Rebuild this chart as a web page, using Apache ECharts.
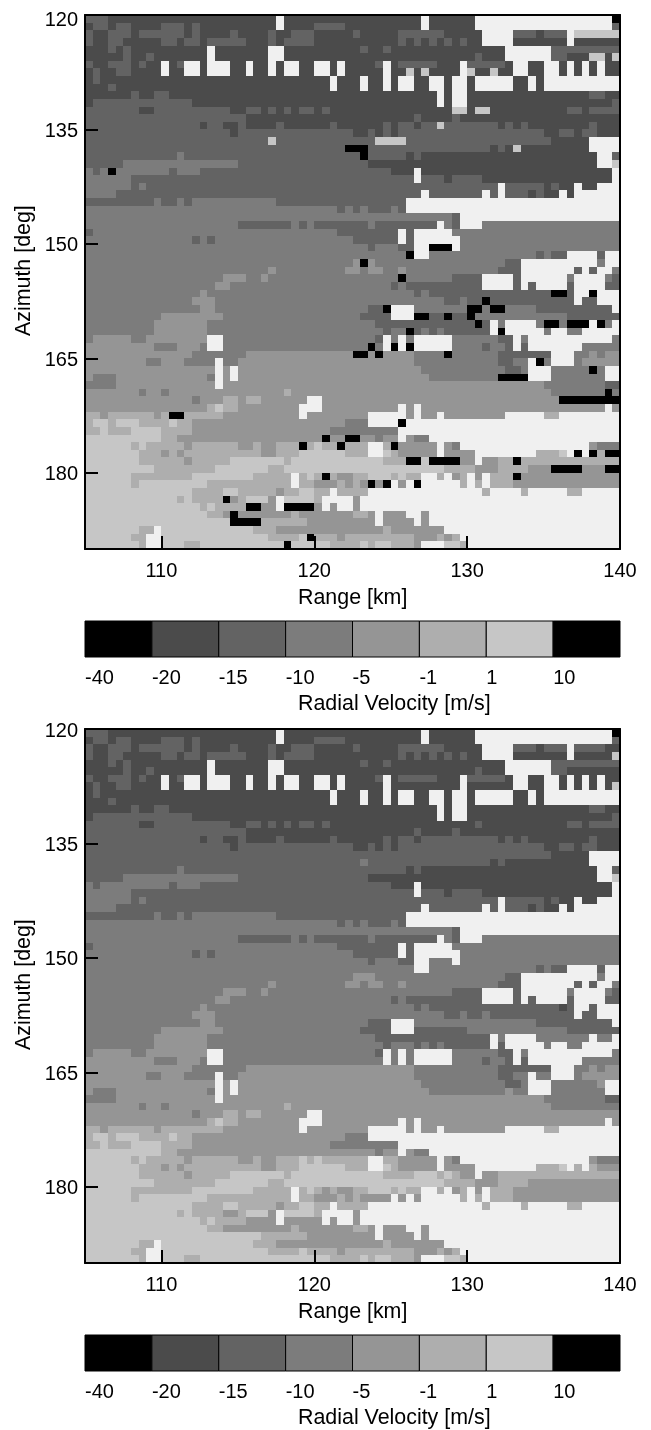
<!DOCTYPE html>
<html>
<head>
<meta charset="utf-8">
<style>html,body{margin:0;padding:0;background:#fff}#c{width:651px;height:1430px}</style>
<script src="https://cdn.jsdelivr.net/npm/echarts@6/dist/echarts.min.js"></script>
</head>
<body>
<div id="c"></div>
<script>
// Colour classes: 0 = out of scale (black), 1..6 = velocity bins, 7 = no data
const binColors = ['#000000','#4b4b4b','#636363','#7c7c7c','#959595','#aeaeae','#c6c6c6','#f0f0f0'];
const colorbarLabels = ['-40','-20','-15','-10','-5','-1','1','10'];
const colorbarBins = [0,1,2,3,4,5,6,0];
const rangeTicks = [110,120,130,140];
const azimuthTicks = [120,135,150,165,180];

// Raw velocity classes, one line per azimuth (120..189 deg, 1 deg steps).
// Each token is class.endColumn; columns are 0.5 km gates from 105 km.
const rawRows = [
"2.3 1.25 7.26 1.44 7.45 1.51 7.69 0.70",
"1.1 2.3 1.4 2.6 1.10 2.13 1.14 2.15 1.25 7.26 1.30 2.34 1.44 7.45 1.51 7.69 2.70",
"2.1 1.3 2.6 1.7 2.13 1.14 2.15 1.19 2.20 1.24 2.25 1.27 2.30 1.35 2.36 1.41 2.47 1.52 7.56 2.59 1.60 2.63 7.64 6.70",
"2.1 1.3 2.5 1.10 2.12 1.13 2.15 1.16 2.21 1.24 2.25 1.26 2.30 1.41 2.42 1.43 2.44 1.45 2.46 1.47 2.48 1.49 2.50 1.52 7.56 1.63 7.64 1.70",
"1.3 2.4 1.5 2.6 1.16 7.17 1.24 7.26 1.36 2.37 1.39 2.40 1.55 7.61 2.70",
"1.5 2.6 1.8 2.9 1.16 7.17 1.24 7.26 1.51 2.52 1.55 7.61 2.63 1.66 6.68 1.69 6.70",
"2.1 1.3 2.6 1.7 2.8 1.10 7.11 1.12 2.13 7.15 1.16 7.19 1.21 7.22 1.24 7.25 1.26 7.28 1.30 7.32 1.33 7.34 1.38 2.39 7.40 1.41 2.46 1.49 7.50 2.55 1.56 7.58 1.60 7.62 1.63 7.64 1.65 7.66 1.67 7.68 1.70",
"1.1 2.2 1.4 2.6 1.10 7.11 1.13 7.15 1.16 7.19 1.21 7.22 1.24 7.25 1.26 7.28 1.30 7.32 1.33 7.34 1.39 7.40 1.42 6.43 1.44 6.45 1.49 7.50 6.51 1.53 6.54 1.56 7.58 1.60 7.62 1.63 7.64 1.65 7.66 1.67 7.68 1.70",
"1.1 2.2 1.32 7.33 1.36 7.37 1.39 7.40 1.41 7.43 1.45 7.47 1.48 7.50 1.51 7.56 1.58 7.59 1.60 7.70",
"1.3 2.4 1.32 7.33 1.36 7.37 1.39 7.40 1.41 7.43 1.45 7.47 1.48 7.50 1.51 7.56 1.58 7.59 1.60 7.70",
"1.6 2.7 1.9 2.11 1.46 7.47 1.48 7.50 1.66 2.68 1.70",
"1.1 2.14 1.46 7.47 1.48 7.50 1.69 2.70",
"2.7 1.9 2.19 1.21 2.23 1.24 2.25 1.26 2.27 1.28 2.30 1.31 2.32 1.48 6.50 1.51 6.53 1.63 2.65 1.66 2.70",
"2.21 1.43 2.44 1.48 2.49 1.70",
"2.15 1.16 2.18 1.20 2.21 1.25 2.26 1.32 2.33 1.39 2.40 1.41 2.43 1.44 2.46 6.47 2.54 1.55 2.56 1.57 2.58 1.66 2.67 1.70",
"2.19 1.20 2.35 1.37 2.38 1.39 2.40 1.41 2.60 1.62 2.64 1.65 2.67 1.70",
"2.24 6.25 2.38 6.42 2.61 1.66 7.70",
"2.34 0.37 2.53 1.54 2.55 1.56 6.57 1.66 7.70",
"2.12 3.13 2.36 0.37 2.42 1.43 2.44 1.67 7.69 2.70",
"2.5 3.20 2.37 1.67 7.69 6.70",
"3.1 2.2 3.3 0.4 3.11 2.12 3.15 2.40 1.43 7.44 1.69 7.70",
"3.6 2.43 7.44 2.47 1.48 2.52 1.69 7.70",
"3.6 2.7 3.8 2.54 7.55 2.60 1.61 2.62 1.64 7.65 1.67 7.70",
"3.4 2.44 7.45 2.52 7.53 2.54 7.55 2.58 1.59 2.60 1.62 7.63 1.64 7.70",
"2.9 3.10 2.12 3.13 2.14 3.25 2.42 7.70",
"3.33 2.34 3.35 2.36 3.37 2.40 3.41 2.42 7.70",
"3.48 2.49 7.70",
"3.20 2.27 3.28 2.29 3.30 2.37 3.38 2.46 7.47 3.48 2.49 7.52 3.70",
"2.1 3.33 2.41 7.42 2.43 7.48 3.70",
"3.14 2.15 3.16 2.17 3.35 2.41 7.42 2.43 7.49 3.70",
"3.37 2.38 3.41 2.43 7.45 0.48 7.49 3.70",
"3.42 0.43 7.45 3.59 2.60 3.61 2.63 7.67 2.68 7.70",
"3.35 4.36 0.37 4.38 3.55 2.57 7.67 3.68 7.70",
"3.24 4.25 3.34 4.36 3.37 4.39 3.41 4.42 3.54 2.57 7.64 2.65 7.66 2.67 7.69 3.70",
"3.18 4.21 3.23 4.24 3.41 0.42 3.48 2.52 7.56 2.57 7.63 3.64 7.68 3.69 2.70",
"3.17 4.19 3.40 2.41 3.42 2.52 7.56 2.57 7.58 2.59 7.63 2.64 7.68 2.70",
"3.15 4.16 3.43 2.44 3.45 2.61 0.63 2.64 7.66 0.67 7.70",
"3.14 4.17 3.47 2.49 3.50 2.52 0.53 2.64 7.65 2.67 7.70",
"3.15 4.17 3.37 2.39 0.40 7.43 3.50 0.52 3.53 0.55 3.59 2.69 7.70",
"3.10 4.18 3.36 2.40 7.43 0.45 2.47 0.48 2.50 0.51 3.63 2.70",
"3.9 4.16 3.38 2.51 0.52 2.53 7.54 3.55 7.59 3.60 0.62 3.63 0.66 7.67 0.68 3.69 7.70",
"3.9 4.16 3.39 2.40 3.42 0.43 2.44 3.45 2.46 3.47 2.53 7.54 0.55 7.60 3.61 7.63 3.65 7.70",
"3.1 4.6 3.8 4.16 7.18 3.38 2.39 7.40 3.41 7.42 3.43 7.48 3.54 2.56 7.57 3.58 7.69 3.70",
"4.9 3.12 4.15 3.16 7.18 3.37 0.38 3.39 7.40 0.41 7.42 0.43 7.48 3.52 2.53 3.55 2.56 7.57 2.58 7.65 3.70",
"4.14 3.21 4.35 0.37 4.38 0.39 4.43 3.47 0.48 3.54 2.61 7.64 3.66 4.67 3.68 4.70",
"4.8 3.10 4.13 3.17 7.18 3.20 4.43 3.54 2.56 3.58 7.59 0.60 3.61 7.64 3.65 4.70",
"4.17 7.18 4.19 7.20 4.44 3.55 2.57 3.58 7.61 3.66 0.67 3.68 7.70",
"4.1 3.4 4.16 3.17 7.18 4.19 7.20 4.45 3.54 0.58 7.61 3.68 7.70",
"3.4 4.17 7.18 4.60 3.68 2.70",
"4.7 3.8 4.10 3.11 4.26 5.27 4.61 3.68 0.69 3.70",
"4.14 3.15 4.18 5.20 4.21 5.23 4.29 7.31 4.62 0.70",
"4.16 5.17 6.18 5.20 4.28 7.31 4.41 7.42 4.43 7.44 4.68 7.69 4.70",
"5.2 4.3 5.9 4.10 5.11 0.13 5.18 4.28 7.29 4.37 7.42 4.43 7.44 4.46 7.47 4.55 7.60 5.62 7.70",
"5.1 6.3 5.4 6.7 5.11 6.12 5.14 4.34 3.37 7.41 0.42 7.70",
"5.2 6.3 5.6 6.10 5.14 4.32 3.41 7.70",
"6.10 5.12 4.31 0.32 4.34 0.36 4.38 3.39 4.41 7.42 4.43 3.45 7.70",
"6.6 5.7 6.8 5.13 4.14 5.20 4.22 5.23 4.25 5.28 0.29 5.30 6.31 5.33 0.34 5.37 7.39 5.40 0.41 4.46 7.47 4.48 3.49 7.66 4.67 3.70",
"6.7 5.10 4.11 5.12 4.13 5.23 4.25 5.28 6.34 5.37 7.39 6.40 5.41 4.46 7.47 4.51 7.59 5.62 6.63 7.64 0.65 7.66 0.67 5.68 0.70",
"6.7 5.13 4.14 5.19 6.26 5.27 6.39 5.42 0.44 6.45 0.49 4.51 7.52 4.54 5.56 0.57 5.70",
"6.9 5.17 6.24 5.26 6.47 5.51 4.54 5.58 4.61 0.65 4.68 0.70",
"6.6 5.14 6.22 5.27 7.28 5.29 6.30 5.31 0.32 5.33 4.35 5.37 6.40 5.41 6.42 5.44 7.46 5.47 7.48 4.49 5.50 7.51 4.52 7.53 5.56 0.57 4.70",
"6.6 5.7 6.16 5.27 7.28 5.30 4.33 5.34 4.35 5.36 4.37 0.38 4.39 0.40 7.41 4.42 7.43 0.44 7.49 5.50 7.51 5.52 7.53 5.56 4.70",
"6.14 5.18 6.20 5.25 4.26 5.28 6.30 5.32 7.33 5.37 7.52 5.53 7.57 5.58 7.63 5.65 7.70",
"6.12 5.13 6.14 5.18 0.19 4.20 5.21 6.24 4.25 7.26 6.30 5.31 7.35 4.36 7.70",
"6.15 5.16 6.17 5.21 0.23 4.25 7.26 0.30 4.31 7.32 4.33 7.35 4.36 7.70",
"6.16 5.18 4.19 0.20 4.27 5.28 4.35 5.37 4.38 7.39 4.42 7.44 4.45 7.70",
"6.19 0.23 5.29 4.38 7.39 4.43 7.44 4.45 7.70",
"6.7 5.9 7.10 6.22 5.25 4.39 5.40 4.47 7.70",
"6.6 5.8 7.10 6.24 5.28 6.29 0.30 5.33 4.34 5.43 4.46 5.47 4.48 5.49 7.70",
"6.7 5.8 7.10 6.13 5.15 6.26 0.27 6.32 5.36 6.37 5.38 6.40 5.43 4.44 7.47 6.49 5.50 7.70"
];

// Cells that differ in the corrected (lower) panel: [row, fromColumn, toColumn, class]
const correctedCells = [
[2,64,68,2],[2,68,70,1],[3,69,70,6],[5,66,68,1],[5,69,70,1],
[7,42,43,1],[7,44,45,1],[7,50,51,1],[7,53,54,1],[7,69,70,6],
[12,48,50,1],[12,51,52,2],[12,52,53,1],[14,46,47,2],[16,24,25,2],[16,38,42,2],
[17,34,36,2],[17,36,37,3],[17,56,57,1],[18,36,37,2],[20,3,4,3],
[30,45,48,3],[31,42,43,3],[32,36,37,4],[34,41,42,3],
[36,61,62,2],[36,62,63,1],[36,66,67,2],[37,52,53,3],
[38,39,40,2],[38,50,52,3],[38,53,55,3],
[39,43,45,2],[39,47,48,2],[39,50,51,3],
[40,51,52,2],[40,60,62,3],[40,63,66,3],[40,67,68,3],
[41,42,43,3],[41,54,55,2],[43,37,38,3],[43,40,41,3],[43,42,43,3],
[44,35,37,4],[44,38,39,4],[44,47,48,3],[45,59,60,3],
[46,66,67,3],[46,67,68,4],[47,54,55,3],[47,55,56,4],[47,56,58,3],
[49,68,69,3],[50,62,70,4],[52,11,13,5],[53,41,42,7],
[55,31,32,4],[55,34,36,4],[56,28,29,6],[56,33,34,5],[56,40,41,5],
[57,64,65,5],[57,66,67,5],[57,67,70,4],
[58,42,43,5],[58,43,45,6],[58,45,46,6],[58,46,47,5],[58,47,48,6],[58,48,49,5],[58,56,57,5],
[59,61,65,4],[59,68,70,4],[60,31,32,4],[60,56,57,4],
[61,37,38,4],[61,39,40,4],[61,43,44,4],
[63,18,19,4],[64,21,23,4],[64,26,30,4],[65,19,20,4],[66,19,23,6],[68,29,30,5],[69,26,27,6]
];

const RANGE_MIN = 105, RANGE_MAX = 140, GATE = 0.5, AZ_MIN = 120, AZ_MAX = 190, AZ_STEP = 1;

function decodeRow(s){
  const out = [];
  s.split(' ').forEach(t => {
    const [v, end] = t.split('.').map(Number);
    while (out.length < end) out.push(v);
  });
  return out;
}
const rawGrid = rawRows.map(decodeRow);
const correctedGrid = rawGrid.map(r => r.slice());
correctedCells.forEach(([r,a,b,v]) => { for (let c=a;c<b;c++) correctedGrid[r][c]=v; });

function cells(grid){
  const d = [];
  grid.forEach((row,r) => row.forEach((v,c) => d.push([RANGE_MIN+c*GATE, AZ_MIN+r*AZ_STEP, v])));
  return d;
}
function renderCell(params, api){
  const x = api.value(0), y = api.value(1);
  const p0 = api.coord([x, y]), p1 = api.coord([x+GATE, y+AZ_STEP]);
  const x0 = Math.round(p0[0]), y0 = Math.round(p0[1]), x1 = Math.round(p1[0]), y1 = Math.round(p1[1]);
  return {type:'rect', shape:{x:x0,y:y0,width:x1-x0,height:y1-y0}, style:{fill:binColors[api.value(2)]}};
}
function renderSwatch(params, api){
  const i = api.value(0);
  const p0 = api.coord([i, 0]), p1 = api.coord([i+1, 1]);
  return {type:'rect', shape:{x:p0[0],y:p1[1],width:p1[0]-p0[0],height:p0[1]-p1[1]},
    style:{fill:binColors[api.value(1)], stroke:'#000', lineWidth:1}};
}

const FONT = 'Liberation Sans', FS = 20, TITLE_FS = 21.4;
const panels = [
  {top:15,  barTop:621,  grid:rawGrid, firstPad:10},
  {top:729, barTop:1335, grid:correctedGrid, firstPad:5}
];
const grids=[], xAxes=[], yAxes=[], series=[], texts=[];
const hidden = {show:false};
const line = {show:true, onZero:false, lineStyle:{color:'#000', width:2}};
function addText(text, x, y, rotate){
  texts.push({type:'text', x, y, rotation:rotate?Math.PI/2:0, z:20,
    style:{text, fill:'#000', font:TITLE_FS+'px "'+FONT+'"', textAlign:'left', textVerticalAlign:'middle'}});
}
panels.forEach(p => {
  // main panel
  let g = grids.length;
  grids.push({left:85, top:p.top, width:535, height:534});
  const ax = xAxes.length, ay = yAxes.length;
  xAxes.push({gridIndex:g, z:10, type:'value', min:RANGE_MIN, max:RANGE_MAX, position:'bottom',
    axisLine:line, splitLine:hidden,
    axisTick:{show:true, inside:true, length:13, lineStyle:{color:'#000',width:2}, customValues:rangeTicks},
    axisLabel:{show:true, color:'#000', fontFamily:FONT, fontSize:FS, margin:12, customValues:rangeTicks, showMinLabel:true, showMaxLabel:true, hideOverlap:false}});
  xAxes.push({gridIndex:g, z:10, type:'value', min:RANGE_MIN, max:RANGE_MAX, position:'top',
    axisLine:line, axisTick:hidden, axisLabel:hidden, splitLine:hidden});
  yAxes.push({gridIndex:g, z:10, type:'value', min:AZ_MIN, max:AZ_MAX, inverse:true, position:'left',
    axisLine:line, splitLine:hidden,
    axisTick:{show:true, inside:true, length:13, lineStyle:{color:'#000',width:2}, customValues:azimuthTicks},
    axisLabel:{show:true, color:'#000', fontFamily:FONT, fontSize:FS, margin:7, customValues:azimuthTicks, showMinLabel:true, hideOverlap:false,
      formatter:v => v===azimuthTicks[0] ? '{first|'+v+'}' : '{tick|'+v+'}',
      rich:{first:{padding:[p.firstPad,0,0,0], fontFamily:FONT, fontSize:FS, color:'#000'}, tick:{padding:[4,0,0,0], fontFamily:FONT, fontSize:FS, color:'#000'}}}});
  yAxes.push({gridIndex:g, z:10, type:'value', min:AZ_MIN, max:AZ_MAX, inverse:true, position:'right',
    axisLine:line, axisTick:hidden, axisLabel:hidden, splitLine:hidden});
  series.push({type:'custom', coordinateSystem:'cartesian2d', xAxisIndex:ax, yAxisIndex:ay,
    data:cells(p.grid), renderItem:renderCell, encode:{x:0,y:1}, silent:true, animation:false, progressive:0, clip:true});
  addText('Range [km]', 298, p.top+583);
  addText('Azimuth [deg]', 24, p.top+321, true);
  // colour bar
  g = grids.length;
  grids.push({left:85, top:p.barTop, width:535, height:36});
  const bx = xAxes.length, by = yAxes.length;
  const idx = colorbarLabels.map((_,i)=>i);
  xAxes.push({gridIndex:g, type:'value', min:0, max:colorbarLabels.length, position:'bottom',
    axisLine:{show:false}, axisTick:hidden, splitLine:hidden,
    axisLabel:{show:true, color:'#000', fontFamily:FONT, fontSize:FS, margin:11, align:'left', customValues:idx, showMinLabel:true, hideOverlap:false,
      formatter:v=>colorbarLabels[v]}});
  yAxes.push({gridIndex:g, type:'value', min:0, max:1, show:false});
  series.push({type:'custom', coordinateSystem:'cartesian2d', xAxisIndex:bx, yAxisIndex:by,
    data:colorbarBins.map((b,i)=>[i,b]), renderItem:renderSwatch, encode:{x:0}, silent:true, animation:false, clip:false});
  addText('Radial Velocity [m/s]', 298, p.barTop+83);
});

const chart = echarts.init(document.getElementById('c'), null, {renderer:'canvas', width:651, height:1430});
chart.setOption({animation:false, backgroundColor:'#fff', grid:grids, xAxis:xAxes, yAxis:yAxes, series:series, graphic:{elements:texts}});
</script>
</body>
</html>
